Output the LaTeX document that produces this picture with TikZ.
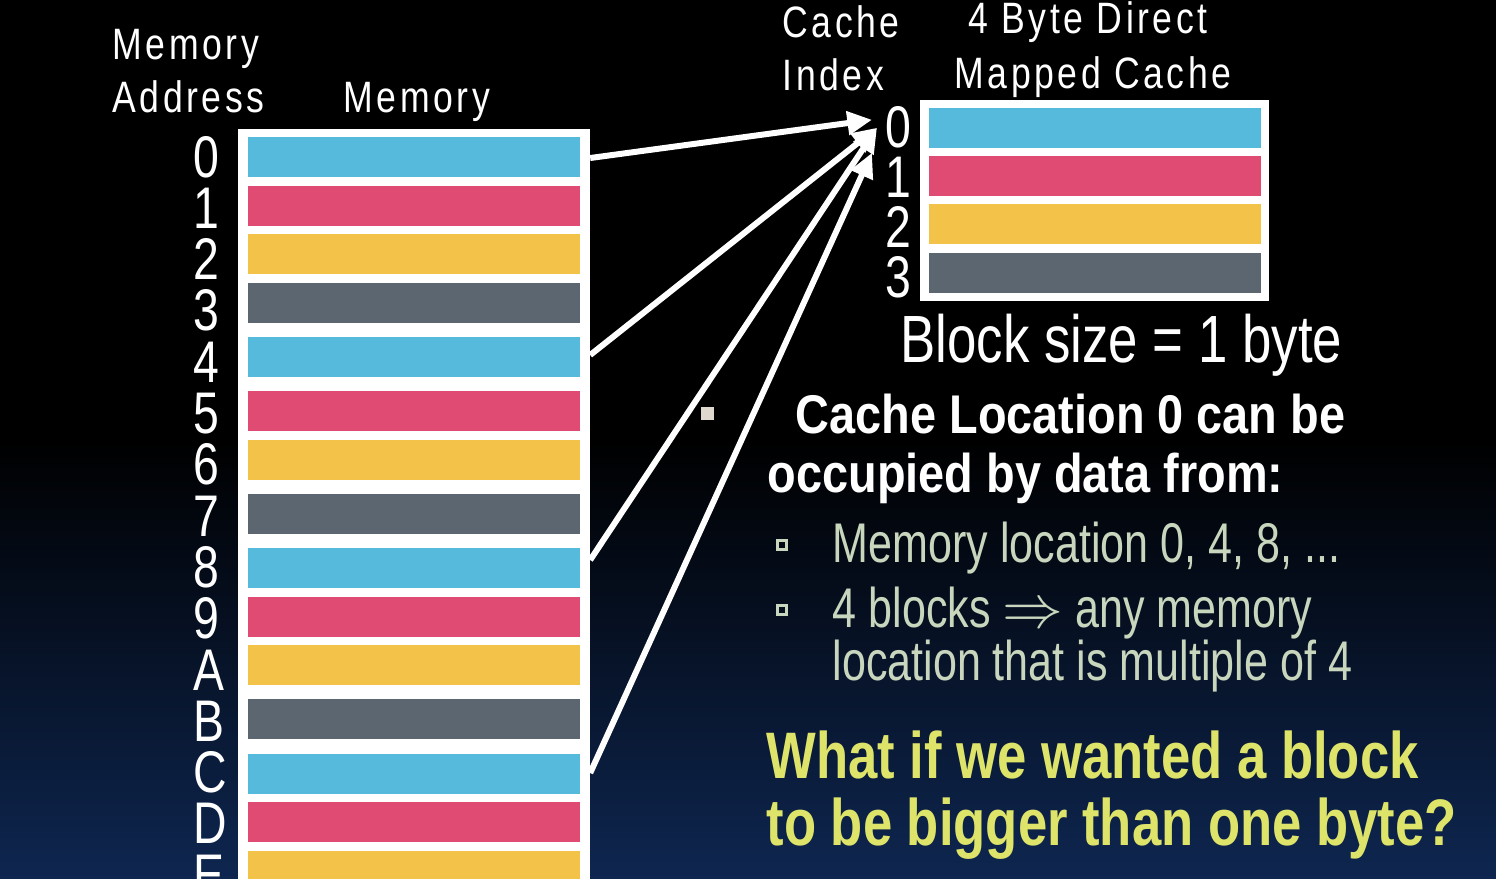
\documentclass[tikz,border=0pt]{standalone}
\usepackage{fontspec}
\setmainfont{Liberation Sans}
\newfontfamily\headfont[FakeStretch=0.81,LetterSpace=8]{Liberation Sans}
\newfontfamily\narrowfont[FakeStretch=0.79]{Liberation Sans}
\newfontfamily\boldnarrow[FakeStretch=0.86]{Liberation Sans}
\newfontfamily\questfont[FakeStretch=0.80]{Liberation Sans}
\newfontfamily\bulletfont[FakeStretch=0.77]{Liberation Sans}
\usetikzlibrary{calc,arrows.meta}

\definecolor{memcyan}{RGB}{86,186,221}
\definecolor{memred}{RGB}{224,75,116}
\definecolor{memyellow}{RGB}{243,194,72}
\definecolor{memgray}{RGB}{91,102,112}
\definecolor{navybg}{RGB}{14,38,80}
\definecolor{sagetext}{RGB}{200,214,190}
\definecolor{quizyellow}{RGB}{222,228,106}
\definecolor{bulletgray}{RGB}{222,216,206}

\begin{document}
\begin{tikzpicture}[x=0.01cm, y=-0.01cm,
  rowbox/.style={inner sep=0, outer sep=0, minimum width=3.32cm, minimum height=0.40cm, anchor=north west},
  addr/.style={inner sep=0, anchor=base west, text=white, font=\narrowfont\fontsize{16.7}{16.7}\selectfont},
  head/.style={inner sep=0, anchor=base west, text=white, font=\headfont\fontsize{12.5}{12.5}\selectfont},
  point/.style={inner sep=0, anchor=base west, text=sagetext, font=\bulletfont\fontsize{15.9}{15.9}\selectfont},
  question/.style={inner sep=0, anchor=base west, text=quizyellow, font=\questfont\bfseries\fontsize{18.7}{18.7}\selectfont},
  link/.style={white, line width=1.7pt, -{Triangle[length=7pt,width=6.5pt]}}]

\useasboundingbox (0,0) rectangle (1496,878);
\clip (0,0) rectangle (1496,878);
\fill[black] (0,0) rectangle (1496,878);
\shade[top color=black, bottom color=navybg] (0,440) rectangle (1496,878);

% memory column
\fill[white] (238,129) rectangle (590,890);
\foreach \y/\c [count=\i from 0] in {137/memcyan, 186/memred, 234/memyellow, 283/memgray, 337/memcyan, 391/memred, 440/memyellow, 494/memgray, 548/memcyan, 597/memred, 645/memyellow, 699/memgray, 754/memcyan, 802/memred, 851/memyellow}
  \node[rowbox, fill=\c] (m\i) at (248,\y) {};
\foreach \a [count=\i from 0] in {0,1,2,3,4,5,6,7,8,9,A,B,C,D,E}
  \node[addr] (a\i) at (193,{177+51.3*\i}) {\a};

\node[head] (addrtop) at (112,59) {Memory};
\node[head] (addrbot) at (112,112) {Address};
\node[head] (memhead) at (343,112) {Memory};

% cache
\fill[white] (920,100) rectangle (1269,301);
\foreach \y/\c [count=\i from 0] in {108/memcyan, 156/memred, 204/memyellow, 253/memgray}
  \node[rowbox, fill=\c] (c\i) at (929,\y) {};
\foreach \d [count=\i from 0] in {0,1,2,3}
  \node[addr] (ci\i) at (885,{147+50.3*\i}) {\d};

\node[head] (idxtop) at (782,37) {Cache};
\node[head] (idxbot) at (782,90) {Index};
\node[head, anchor=base] (cachetop) at (1088,33) {4 Byte Direct};
\node[head, anchor=base] (cachebot) at (1093,88) {Mapped Cache};

\node[inner sep=0, anchor=base west, text=white, font=\narrowfont\fontsize{19}{19}\selectfont] (bsize) at (900,362) {Block size = 1 byte};

% arrows to cache index 0
\draw[link] ($(m0.east)+(10,1)$) -- ($(ci0.west)+(-13,-7)$);
\draw[link] ($(m4.east)+(10,-2)$) -- ($(ci0.west)+(-8,1)$);
\draw[link] ($(m8.east)+(10,-8)$) -- ($(ci0.west)+(-8,1)$);
\draw[link] ($(m12.east)+(10,-1)$) -- ($(ci0.west)+(-13,26)$);

% text
\node[inner sep=0, minimum size=0.13cm, fill=bulletgray] (sq) at (707,413) {};
\node[inner sep=0, anchor=base west, text=white, font=\boldnarrow\bfseries\fontsize{15.5}{15.5}\selectfont] (loc1) at (795,433) {Cache Location 0 can be};
\node[inner sep=0, anchor=base west, text=white, font=\boldnarrow\bfseries\fontsize{15.5}{15.5}\selectfont] (loc2) at (767,492) {occupied by data from:};

\node[inner sep=0, minimum size=0.09cm, draw=sagetext, line width=1.1pt] (b1) at (782,545) {};
\node[inner sep=0, minimum size=0.09cm, draw=sagetext, line width=1.1pt] (b2) at (782,610) {};
\node[point] (p1) at (832,562) {Memory location 0, 4, 8, ...};
\node[point] (p2) at (832,627) {4 blocks $\Rightarrow$ any memory};
\node[point] (p3) at (832,680) {location that is multiple of 4};

\node[question] (q1) at (766,778) {What if we wanted a block};
\node[question] (q2) at (766,845) {to be bigger than one byte?};

\end{tikzpicture}
\end{document}
